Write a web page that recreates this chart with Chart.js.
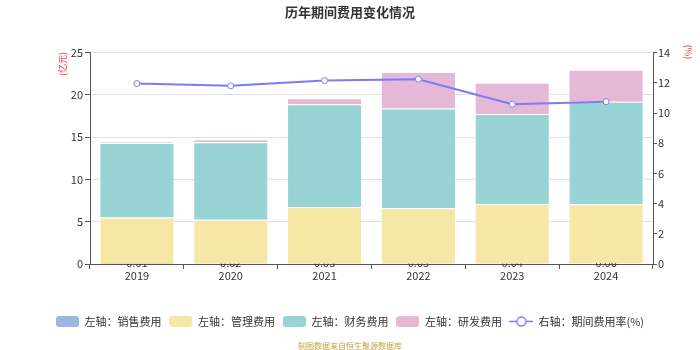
<!DOCTYPE html>
<html>
<head>
<meta charset="utf-8">
<script src="https://cdn.jsdelivr.net/npm/chart.js@4"></script>
<style>
  html, body { margin: 0; padding: 0; background: #fff; }
  #wrap { width: 700px; height: 350px; }
</style>
</head>
<body>
<div id="wrap"><canvas id="chart"></canvas></div>
<script>
const years = ['2019', '2020', '2021', '2022', '2023', '2024'];
const salesFee = [0.01, 0.02, 0.03, 0.03, 0.04, 0.06];
const salesText = ['0.01', '0.02', '0.03', '0.03', '0.04', '0.06'];
const mgmtFee = [5.50, 5.22, 6.72, 6.55, 7.06, 7.00];
const financeFee = [8.81, 9.16, 12.14, 11.82, 10.64, 12.14];
const rdFee = [0.10, 0.36, 0.71, 4.30, 3.69, 3.78];
const feeRate = [11.95, 11.80, 12.15, 12.24, 10.58, 10.75];

const FONT = '"Microsoft YaHei", "Noto Sans CJK SC", sans-serif';

// 图例小方块
function boxMarker(color) {
  const c = document.createElement('canvas');
  c.width = 23; c.height = 11;
  const g = c.getContext('2d');
  g.fillStyle = color;
  g.beginPath();
  g.roundRect(0, 0, 23, 11, 3);
  g.fill();
  return c;
}
function lineMarker(color) {
  const c = document.createElement('canvas');
  c.width = 24; c.height = 13;
  const g = c.getContext('2d');
  g.strokeStyle = color;
  g.lineWidth = 1.5;
  g.beginPath(); g.moveTo(0, 6.5); g.lineTo(24, 6.5); g.stroke();
  g.fillStyle = '#fff';
  g.beginPath(); g.arc(12, 6.5, 4.5, 0, Math.PI * 2); g.fill(); g.stroke();
  return c;
}

const colors = ['#9ab7e2', '#f7e7a6', '#98d4d5', '#e6b8d8', '#7b7bf5'];
const markers = [boxMarker(colors[0]), boxMarker(colors[1]), boxMarker(colors[2]), boxMarker(colors[3]), lineMarker(colors[4])];

function vText(ctx, text, x, y, angle, font, color) {
  ctx.save();
  ctx.font = font;
  ctx.fillStyle = color;
  ctx.textAlign = 'center';
  ctx.textBaseline = 'middle';
  ctx.translate(x, y);
  ctx.rotate(angle);
  ctx.fillText(text, 0, 0);
  ctx.restore();
}

const extras = {
  id: 'extras',
  beforeDatasetsDraw(chart) {
    const ctx = chart.ctx, x = chart.scales.x, y = chart.scales.y;
    ctx.save();
    ctx.font = '11px ' + FONT;
    ctx.fillStyle = '#333';
    ctx.textAlign = 'center';
    ctx.textBaseline = 'middle';
    salesText.forEach((t, i) => {
      ctx.fillText(t, x.getPixelForValue(i), y.getPixelForValue(0) - 1);
    });
    ctx.restore();
  },
  afterDraw(chart) {
    const ctx = chart.ctx;
    vText(ctx, '(亿元)', 63, 64, -Math.PI / 2, '9px ' + FONT, '#e83a3a');
    vText(ctx, '(%)', 688, 52, Math.PI / 2, '9px ' + FONT, '#e83a3a');
    vText(ctx, '制图数据来自恒生聚源数据库', 350, 346, 0, '8px ' + FONT, '#c9a040');
  }
};

const barDs = (label, data, i) => ({
  type: 'bar', label, data, backgroundColor: colors[i],
  borderColor: 'rgba(255,255,255,0.45)', borderWidth: 1,
  yAxisID: 'y', stack: 's', order: 1,
  barPercentage: 0.8, categoryPercentage: 1
});

new Chart(document.getElementById('chart'), {
  data: {
    labels: years,
    datasets: [
      barDs('左轴：销售费用', salesFee, 0),
      barDs('左轴：管理费用', mgmtFee, 1),
      barDs('左轴：财务费用', financeFee, 2),
      barDs('左轴：研发费用', rdFee, 3),
      {
        type: 'line', label: '右轴：期间费用率(%)', data: feeRate, yAxisID: 'y1', order: 0,
        borderColor: colors[4], borderWidth: 2, pointRadius: 3, pointBorderWidth: 1,
        pointBackgroundColor: '#fff', pointBorderColor: colors[4], tension: 0
      }
    ]
  },
  options: {
    responsive: true,
    maintainAspectRatio: false,
    animation: false,
    layout: { padding: { left: 0, right: 0, top: 0, bottom: 13 } },
    plugins: {
      title: {
        display: true, text: '历年期间费用变化情况', color: '#333',
        font: { size: 13, weight: 'bold', family: FONT },
        padding: { top: 4, bottom: 33 }
      },
      tooltip: { enabled: false },
      legend: {
        position: 'bottom',
        labels: {
          usePointStyle: true, pointStyleWidth: 23, boxHeight: 11, padding: 8,
          color: '#333', font: { size: 11, family: FONT },
          generateLabels: chart => chart.data.datasets.map((ds, i) => ({
            text: ds.label, pointStyle: markers[i], fillStyle: colors[i], strokeStyle: colors[i],
            lineWidth: 0, hidden: !chart.isDatasetVisible(i), datasetIndex: i, fontColor: '#333'
          }))
        }
      }
    },
    scales: {
      x: {
        stacked: true,
        grid: { offset: true, drawOnChartArea: false, drawTicks: true, tickLength: 5, tickColor: '#555' },
        border: { color: '#555' },
        ticks: { color: '#333', font: { size: 11, family: FONT }, padding: 0 },
        afterFit: s => { s.height = 44; }
      },
      y: {
        stacked: true, min: 0, max: 25,
        grid: { color: '#e0e0e0', tickColor: '#555', tickLength: 5 },
        border: { color: '#555' },
        ticks: { stepSize: 5, color: '#333', font: { size: 11, family: FONT }, padding: 2 },
        afterFit: s => { s.width = 90; }
      },
      y1: {
        position: 'right', min: 0, max: 14,
        grid: { drawOnChartArea: false, tickColor: '#555', tickLength: 4 },
        border: { color: '#555' },
        ticks: { stepSize: 2, color: '#333', font: { size: 11, family: FONT }, padding: 1 },
        afterFit: s => { s.width = 47; }
      }
    }
  },
  plugins: [extras]
});
</script>
</body>
</html>
